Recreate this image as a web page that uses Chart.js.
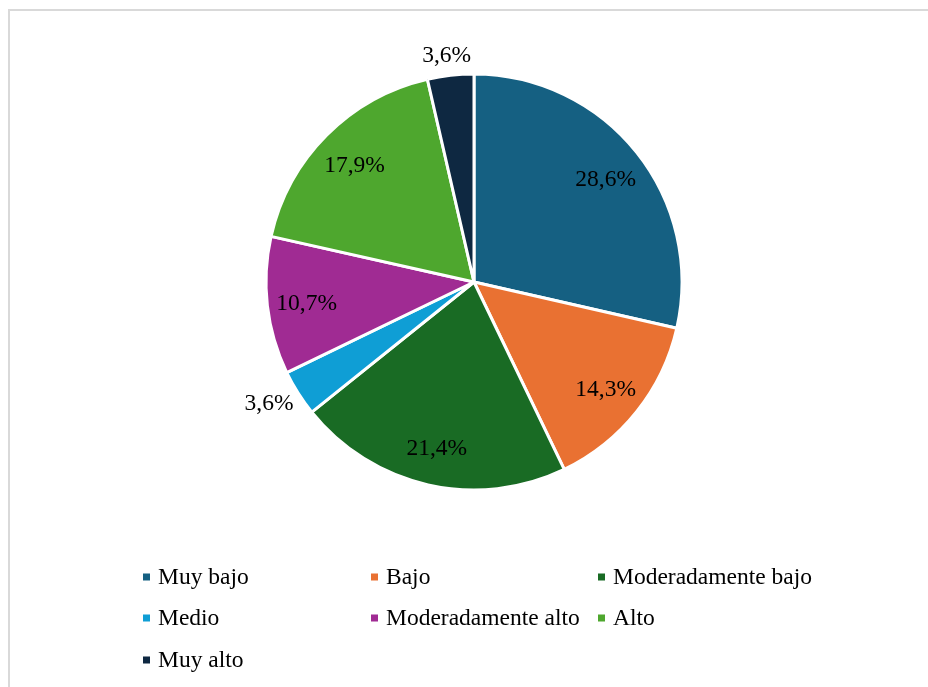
<!DOCTYPE html>
<html>
<head>
<meta charset="utf-8">
<script src="https://cdn.jsdelivr.net/npm/chart.js@4"></script>
<style>
  html, body { margin: 0; padding: 0; background: #fff; overflow: hidden; }
  #wrap { position: relative; width: 928px; height: 687px; }
  #frame { position: absolute; left: 8px; top: 9px; right: -10px; bottom: -10px; border: 2px solid #d9d9d9; pointer-events: none; }
  canvas { position: absolute; left: 0; top: 0; }
</style>
</head>
<body>
<div id="wrap">
  <canvas id="pieChart" width="928" height="687"></canvas>
  <div id="frame"></div>
</div>
<script>
const categories = ['Muy bajo', 'Bajo', 'Moderadamente bajo', 'Medio', 'Moderadamente alto', 'Alto', 'Muy alto'];
const percentages = [28.6, 14.3, 21.4, 3.6, 10.7, 17.9, 3.6];
const sliceColors = ['#156082', '#E97132', '#196B24', '#0F9ED5', '#A02B93', '#4EA72E', '#0E2841'];

const FONT = '23.5px "Liberation Serif", "Times New Roman", serif';

// etiquetas de porcentaje (dentro, o fuera si la porción es pequeña)
const sliceLabels = {
  id: 'sliceLabels',
  afterDatasetsDraw(chart) {
    const ctx = chart.ctx;
    const meta = chart.getDatasetMeta(0);
    ctx.save();
    ctx.font = FONT;
    ctx.fillStyle = '#000';
    ctx.textAlign = 'center';
    ctx.textBaseline = 'middle';
    meta.data.forEach((arc, i) => {
      const p = arc.getProps(['x', 'y', 'startAngle', 'endAngle', 'outerRadius'], true);
      const mid = (p.startAngle + p.endAngle) / 2;
      const dx = Math.cos(mid), dy = Math.sin(mid);
      const txt = percentages[i].toFixed(1).replace('.', ',') + '%';
      let cx, cy;
      if (percentages[i] < 5) {
        const w = ctx.measureText(txt).width;
        const d = p.outerRadius + 10;
        cx = p.x + dx * d + dx * w / 2;
        cy = p.y + dy * d + dy * 10;
      } else {
        const d = p.outerRadius * 0.81;
        cx = p.x + dx * d;
        cy = p.y + dy * d + 3;
      }
      ctx.fillText(txt, cx, cy);
    });
    ctx.restore();
  }
};

// leyenda en cuadrícula de 3 columnas
const gridLegend = {
  id: 'gridLegend',
  afterDraw(chart) {
    const ctx = chart.ctx;
    const colX = [143, 371, 598];
    const rowY = [577, 618, 660];
    ctx.save();
    ctx.font = FONT;
    ctx.textBaseline = 'middle';
    ctx.textAlign = 'left';
    chart.data.labels.forEach((lab, i) => {
      const x = colX[i % 3], y = rowY[Math.floor(i / 3)];
      ctx.fillStyle = chart.data.datasets[0].backgroundColor[i];
      ctx.fillRect(x, y - 3.5, 7, 7);
      ctx.fillStyle = '#000';
      ctx.fillText(lab, x + 15, y + 1);
    });
    ctx.restore();
  }
};

new Chart(document.getElementById('pieChart').getContext('2d'), {
  type: 'pie',
  data: {
    labels: categories,
    datasets: [{
      data: percentages,
      backgroundColor: sliceColors,
      borderColor: '#ffffff',
      borderWidth: 3
    }]
  },
  options: {
    responsive: false,
    animation: false,
    radius: 208,
    layout: { padding: { left: 266, right: 246, top: 74, bottom: 197 } },
    plugins: {
      legend: { display: false },
      tooltip: { enabled: false }
    }
  },
  plugins: [sliceLabels, gridLegend]
});
</script>
</body>
</html>
